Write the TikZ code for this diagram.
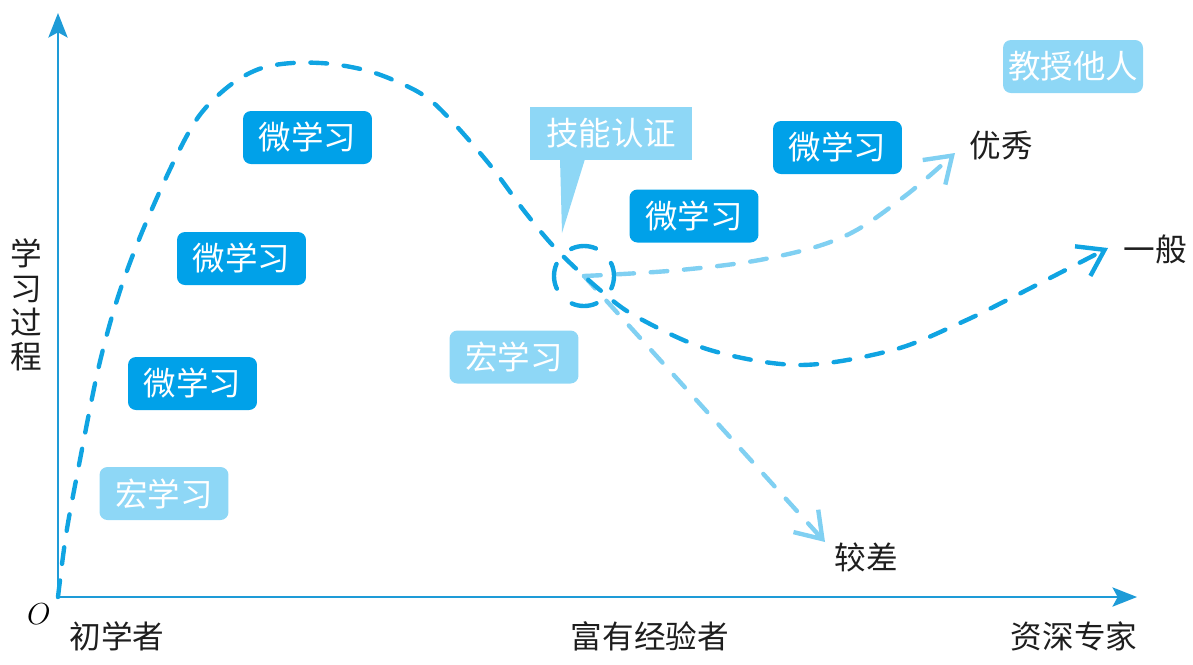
\documentclass[tikz,border=0pt]{standalone}
\usepackage{fontspec}
\newfontfamily\cjk{Noto Sans CJK SC}
\usetikzlibrary{arrows.meta}
\definecolor{cDark}{RGB}{0,161,233}
\definecolor{cLight}{RGB}{142,215,246}
\definecolor{cCurve}{RGB}{16,164,226}
\definecolor{cLightCurve}{RGB}{128,208,242}
\definecolor{cAxis}{RGB}{30,155,215}
\definecolor{cLabel}{RGB}{30,30,30}
\begin{document}
\begin{tikzpicture}[x=0.02cm,y=-0.02cm,
  boxtext/.style={font=\cjk\fontsize{18.5}{20}\selectfont, text=white, inner sep=0pt, minimum height=1.06cm},
  darkbox/.style={boxtext, fill=cDark, rounded corners=4.5pt, minimum width=2.58cm},
  lightbox/.style={boxtext, fill=cLight, rounded corners=4.5pt, minimum width=2.58cm},
  callout/.style={boxtext, fill=cLight, minimum width=3.24cm},
  lbl/.style={font=\cjk\fontsize{18}{20}\selectfont, text=cLabel, inner sep=0pt},
  axisline/.style={draw=cAxis, line width=1.1pt, -{Stealth[length=14pt,width=11pt,inset=3pt]}},
  barb/.style={-{Straight Barb[length=14pt,width=19pt]}},
  maindash/.style={draw=cCurve, line width=2.5pt, line cap=round, dash pattern=on 9.5pt off 9.5pt},
  lightdash/.style={draw=cLightCurve, line width=2.5pt, line cap=round, dash pattern=on 9.5pt off 9.5pt},
]
\useasboundingbox (0,0) rectangle (1193,664);

% coordinates
\coordinate (O) at (58,597);
\coordinate (yend) at (58,13);
\coordinate (xend) at (1137,597);
\coordinate (tipgood) at (955,153);
\coordinate (tipgen) at (1108,248);
\coordinate (tipbad) at (825,542);
\coordinate (ctip) at (562,233);

% axes
\draw[axisline] (O) -- (yend);
\draw[axisline] (O) -- (xend);

% axis labels
\node[font=\fontsize{17}{17}\selectfont] (olbl) at (39,614) {$O$};
\node[lbl] (l1) at (117,636) {初学者};
\node[lbl] (l2) at (650,636) {富有经验者};
\node[lbl] (l3) at (1074,636) {资深专家};
\node[lbl, align=center, font=\cjk\fontsize{18}{19.5}\selectfont] (ylbl) at (26,305) {学\\习\\过\\程};

% boxes
\node[darkbox] (m1) at (307.5,137.5) {微学习};
\node[darkbox] (m2) at (241.5,258.5) {微学习};
\node[darkbox] (m3) at (192.5,383.5) {微学习};
\node[lightbox] (h1) at (164,493.5) {宏学习};
\node[lightbox] (h2) at (514,357) {宏学习};
\node[darkbox] (m4) at (694,216) {微学习};
\node[darkbox] (m5) at (837.5,147.5) {微学习};
\node[lightbox, minimum width=2.8cm] (teach) at (1073,66.5) {教授他人};
\fill[cLight] (560,159) -- (585,159) -- (ctip) -- cycle;
\node[callout] (skill) at (611,133.5) {技能认证};

% ring
\node[minimum size=1.2cm, inner sep=0pt] (ring) at (584,276) {};

% light branches
\draw[lightdash, barb] (ring.center) -- (tipbad);
\draw[lightdash, barb] plot[smooth, tension=0.6] coordinates {(ring.center) (680,270) (770,258) (845,236) (905,196) (tipgood)};

% main curve
\draw[maindash, barb] plot[smooth, tension=0.55] coordinates {(O) (66,535) (78,470) (98,370) (117,300) (140,237) (173,163) (199,116) (229,86) (259,69) (292,63) (332,64) (375,73) (420,93) (448,117) (490,165) (525,212) (557,250) (600,290) (637,317) (710,350) (800,365) (893,350) (960,323) (1015,296) (tipgen)};

\draw[draw=cCurve, line width=2.5pt, line cap=round, dash pattern=on 14.5pt off 12.2pt, dash phase=7.25pt] (ring.center) circle[radius=30];

% outcome labels
\node[lbl] (good) at (1001,146) {优秀};
\node[lbl] (gen) at (1155,249) {一般};
\node[lbl] (bad) at (866,557) {较差};
\end{tikzpicture}
\end{document}
